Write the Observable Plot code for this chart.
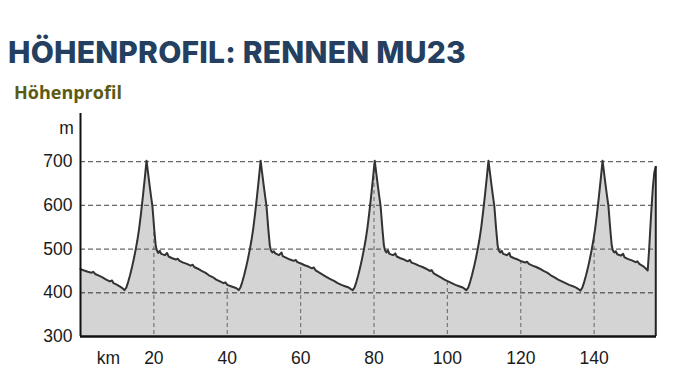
<!DOCTYPE html>
<html>
<head>
<meta charset="utf-8">
<script src="https://cdn.jsdelivr.net/npm/d3@7"></script>
<script src="https://cdn.jsdelivr.net/npm/@observablehq/plot@0.6"></script>
<style>
  html, body { margin: 0; padding: 0; background: #fff; width: 678px; height: 373px; overflow: hidden; position: relative; }
  #title { position: absolute; left: 8px; top: 34px; font-family: Inter, "Open Sans", sans-serif; font-weight: 800; font-size: 30px; line-height: 36px; color: #243f60; white-space: nowrap; letter-spacing: 0.2px; }
  #subtitle { position: absolute; left: 14px; top: 80px; font-family: "Open Sans", sans-serif; font-weight: 700; font-size: 18px; line-height: 24px; color: #5b5a12; white-space: nowrap; }
  #chart { position: absolute; left: 0; top: 108px; }
</style>
</head>
<body>
<div id="title">HÖHENPROFIL: RENNEN MU23</div>
<div id="subtitle">Höhenprofil</div>
<div id="chart"></div>
<script>
// distance along the course (km)
const km = [
  0, 0.5, 1, 2, 3, 3.5, 4, 5, 6, 7, 8, 8.6, 9, 10, 11, 11.5, 12,
  12.5, 13, 13.5, 14, 14.5, 15, 15.5, 16, 16.5, 17, 17.5, 18,
  18.4, 18.8, 19.2, 19.6, 20.1, 20.5, 20.8, 21.2, 21.6, 22.0, 23, 23.6, 24, 25, 26, 26.5, 27, 28, 29, 30, 30.6, 31, 32, 33, 34, 35, 36, 37, 38, 39, 39.5, 40, 41, 42, 42.6, 43.1,
  43.6, 44.1, 44.6, 45.1, 45.6, 46.1, 46.6, 47.1, 47.6, 48.1, 48.6, 49.1,
  49.5, 49.9, 50.3, 50.7, 51.2, 51.6, 51.9, 52.3, 52.7, 53.1, 54.1, 54.8, 55.1, 56.1, 57.1, 58.1, 58.7, 59.1, 60.1, 61.1, 62.1, 63.1, 63.6, 64.1, 65.1, 66.1, 67.1, 68.1, 69.1, 70.1, 71.1, 72.1, 73.1, 73.6, 74.2,
  74.7, 75.2, 75.7, 76.2, 76.7, 77.2, 77.7, 78.2, 78.7, 79.2, 79.7, 80.2,
  80.6, 81.0, 81.4, 81.8, 82.3, 82.7, 83.0, 83.4, 83.8, 84.2, 85.2, 85.8, 86.2, 87.2, 88.2, 89.2, 89.8, 90.2, 91.2, 92.2, 93.2, 94.2, 95.2, 95.7, 96.2, 97.2, 98.2, 99.2, 100.2, 101.2, 102.2, 103.2, 104.2, 104.7, 105.2,
  105.7, 106.2, 106.7, 107.2, 107.7, 108.2, 108.7, 109.2, 109.7, 110.2, 110.7, 111.2,
  111.6, 112.0, 112.4, 112.8, 113.3, 113.7, 114.0, 114.4, 114.8, 115.2, 116.2, 116.9, 117.2, 118.2, 119.2, 120.2, 121.2, 121.7, 122.2, 123.2, 124.2, 125.2, 126.2, 127.2, 128.2, 129.2, 130.2, 131.2, 132.2, 133.2, 134.2, 135.2, 135.8, 136.3,
  136.8, 137.3, 137.8, 138.3, 138.8, 139.3, 139.8, 140.3, 140.8, 141.3, 141.8, 142.3,
  142.7, 143.1, 143.5, 143.9, 144.4, 144.8, 145.1, 145.5, 145.9, 146.3, 147.3, 147.9, 148.3, 149.3, 150.3, 151.3, 151.8, 152.3, 153.3, 154.0, 154.6,
  155.0, 155.5, 156.0, 156.4, 156.8
];
// elevation (m)
const elev = [
  455, 452, 451, 448, 446, 448, 443, 439, 435, 430, 426, 428, 422, 418, 413, 410, 406,
  412, 425, 440, 457, 476, 497, 520, 548, 582, 620, 660, 702,
  675, 648, 622, 598, 545, 508, 497, 491, 496, 489, 486, 491, 483, 479, 476, 478, 473, 469, 466, 462, 464, 459, 455, 450, 446, 440, 436, 430, 426, 422, 424, 418, 415, 412, 410, 406,
  412, 425, 440, 457, 476, 497, 520, 548, 582, 620, 660, 702,
  675, 648, 622, 598, 545, 508, 497, 492, 495, 490, 486, 492, 484, 480, 476, 473, 475, 470, 467, 463, 460, 456, 458, 451, 446, 441, 436, 431, 427, 422, 418, 415, 412, 409, 406,
  412, 425, 440, 457, 476, 497, 520, 548, 582, 620, 660, 702,
  675, 648, 622, 598, 545, 508, 497, 492, 497, 489, 486, 490, 483, 479, 476, 472, 475, 469, 466, 462, 459, 455, 450, 452, 445, 440, 435, 430, 426, 422, 418, 415, 412, 409, 406,
  412, 425, 440, 457, 476, 497, 520, 548, 582, 620, 660, 702,
  675, 648, 622, 598, 545, 508, 497, 492, 496, 489, 486, 491, 483, 479, 476, 472, 469, 471, 466, 462, 459, 455, 450, 446, 440, 435, 430, 426, 422, 418, 415, 411, 408, 405,
  412, 425, 440, 457, 476, 497, 520, 548, 582, 620, 660, 702,
  675, 648, 622, 598, 545, 508, 497, 492, 495, 488, 485, 489, 481, 477, 474, 470, 472, 466, 461, 456, 451,
  500, 575, 640, 675, 688
];
const xTicks = [20, 40, 60, 80, 100, 120, 140];
const yTicks = [300, 400, 500, 600, 700];
const yGrid = [400, 500, 600, 700];
const xUnit = ["km"];
const yUnit = ["m"];

const data = km.map((k, i) => ({km: k, elev: elev[i]}));
const xMax = 157, yMin = 300, yMax = 810;
const lastKm = km[km.length - 1], lastElev = elev[elev.length - 1];

const chart = Plot.plot({
  width: 678,
  height: 265,
  marginLeft: 80,
  marginRight: 22,
  marginTop: 5,
  marginBottom: 37,
  x: {domain: [0, xMax]},
  y: {domain: [yMin, yMax]},
  style: {fontFamily: "'Liberation Sans', Arial, sans-serif", fontSize: "17.5px", color: "#1a1a1a", background: "white"},
  marks: [
    Plot.areaY(data, {x: "km", y1: yMin, y2: "elev", fill: "#d4d4d4"}),
    Plot.ruleX(xTicks, {stroke: "#777", strokeWidth: 1.2, strokeDasharray: "4,3"}),
    Plot.areaY(data, {x: "km", y1: "elev", y2: yMax, fill: "white"}),
    Plot.ruleY(yGrid, {x1: 0, x2: xMax, stroke: "#666", strokeWidth: 1.3, strokeDasharray: "5,3"}),
    Plot.line(data, {x: "km", y: "elev", stroke: "#333", strokeWidth: 2}),
    Plot.ruleX([lastKm], {y1: yMin, y2: lastElev, stroke: "#222", strokeWidth: 2}),
    Plot.ruleX([0], {stroke: "#111", strokeWidth: 2}),
    Plot.ruleY([yMin], {x1: 0, x2: xMax, stroke: "#111", strokeWidth: 2.5}),
    Plot.axisX(xTicks, {tickSize: 0, tickPadding: 15, label: null, fontSize: 17.5}),
    Plot.axisY(yTicks, {tickSize: 0, tickPadding: 8, label: null, fontSize: 17.5}),
    Plot.text(xUnit, {x: [7.6], frameAnchor: "bottom", dy: 21.5, lineAnchor: "middle", fontSize: 17.5}),
    Plot.text(yUnit, {y: [775], frameAnchor: "left", dx: -14, textAnchor: "middle", lineAnchor: "middle", fontSize: 17.5})
  ]
});
document.getElementById("chart").appendChild(chart);
</script>
</body>
</html>
